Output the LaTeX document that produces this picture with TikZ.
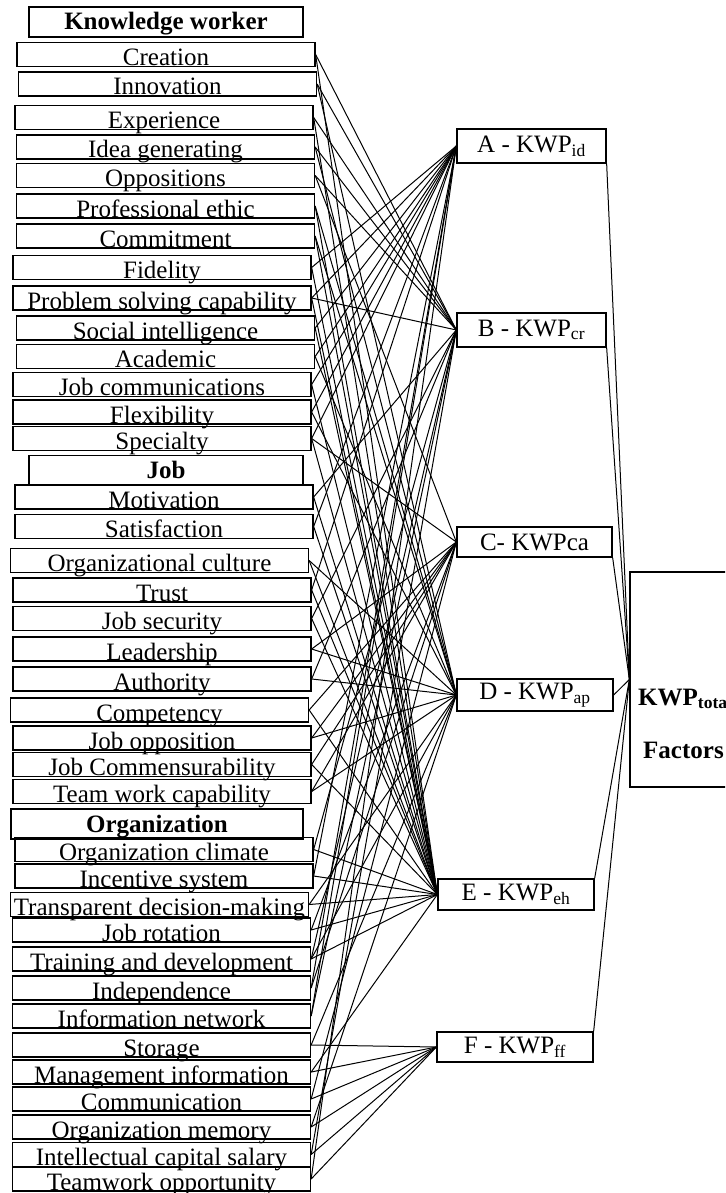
\documentclass[tikz,border=0pt]{standalone}
\usepackage{fontspec}
\setmainfont{Liberation Serif}
\usetikzlibrary{positioning}
\newcommand{\boxfont}{\fontsize{25}{27}\selectfont}
\tikzset{
  item/.style={draw=black,line width=1.3pt,minimum width=298pt,inner xsep=0pt,
               inner ysep=1pt,text height=22pt,text depth=0pt,font=\boxfont},
  head/.style={item,minimum width=274pt,text depth=6pt,font=\boxfont\bfseries},
  fac/.style={draw=black,line width=1.3pt,minimum width=156pt,minimum height=32pt,
              inner sep=0pt,font=\boxfont},
  link/.style={black,line width=1pt},
}

\begin{document}
\begin{tikzpicture}[x=1pt,y=-1pt]
  \useasboundingbox (0,0) rectangle (725,1193);
  \clip (0,0) rectangle (725,1193);
  % knowledge worker
  \node[head] (kw) at (166,22) {Knowledge worker};
  \node[item] (cre)  at (166,54.5)   {Creation};
  \node[item] (inn)  at (167.5,84)   {Innovation};
  \node[item] (exp)  at (164,117.5)  {Experience};
  \node[item] (idea) at (165.5,147)  {Idea generating};
  \node[item] (opp)  at (165.5,175.5){Oppositions};
  \node[item] (pro)  at (165.5,206)  {Professional ethic};
  \node[item] (com)  at (165.5,236)  {Commitment};
  \node[item] (fid)  at (162,267.5)  {Fidelity};
  \node[item] (prob) at (162,298)    {Problem solving capability};
  \node[item] (soc)  at (165.5,328)  {Social intelligence};
  \node[item] (aca)  at (165.5,356.5){Academic};
  \node[item] (jcom) at (162,384.5)  {Job communications};
  \node[item] (flex) at (162,412)    {Flexibility};
  \node[item] (spec) at (162,438.5)  {Specialty};
  % job
  \node[head] (job) at (166,470.5) {Job};
  \node[item] (mot)   at (164,497)    {Motivation};
  \node[item] (sat)   at (164,526.5)  {Satisfaction};
  \node[item] (oc)    at (159.5,560.5){Organizational culture};
  \node[item] (tru)   at (162,590)    {Trust};
  \node[item] (jsec)  at (162,618.5)  {Job security};
  \node[item] (lead)  at (162,649)    {Leadership};
  \node[item] (auth)  at (162,679)    {Authority};
  \node[item] (comp)  at (159.5,710)  {Competency};
  \node[item] (jopp)  at (162,738)    {Job opposition};
  \node[item] (jcomm) at (162,764.5)  {Job Commensurability};
  \node[item] (team)  at (162,791.5)  {Team work capability};
  % organization
  \node[head,minimum width=292pt] (org) at (157,824) {Organization};
  \node[item] (ocl)  at (164,849.5)   {Organization climate};
  \node[item] (inc)  at (164,876)     {Incentive system};
  \node[item] (tdm)  at (159.5,904.5) {Transparent decision-making};
  \node[item] (jrot) at (161.5,930)   {Job rotation};
  \node[item] (trd)  at (161.5,959)   {Training and development};
  \node[item] (ind)  at (161.5,988)   {Independence};
  \node[item] (inet) at (161.5,1016)  {Information network};
  \node[item] (sto)  at (161.5,1045)  {Storage};
  \node[item] (mi)   at (161.5,1072)  {Management information};
  \node[item] (cmn)  at (161.5,1099)  {Communication};
  \node[item] (omem) at (161.5,1127)  {Organization memory};
  \node[item] (ics)  at (161.5,1154.5){Intellectual capital salary};
  \node[item] (topp) at (161.5,1179)  {Teamwork opportunity};
  % factors
  \node[fac,minimum width=149pt,minimum height=34pt] (fa) at (531.5,146) {A - KWP\textsubscript{id}};
  \node[fac,minimum width=149pt,minimum height=34pt] (fb) at (531.5,330) {B - KWP\textsubscript{cr}};
  \node[fac,minimum width=155pt,minimum height=30pt] (fc) at (534.5,542) {C- KWPca};
  \node[fac] (fd) at (535,695)    {D - KWP\textsubscript{ap}};
  \node[fac,minimum height=31pt] (fe) at (516,894.5) {E - KWP\textsubscript{eh}};
  \node[fac,minimum height=30pt] (ff) at (515,1047)  {F - KWP\textsubscript{ff}};
  % total
  \node[draw=black,line width=1.3pt,minimum width=106pt,minimum height=215pt] (tot) at (683,679.5) {};
  \node[anchor=base west,inner sep=0pt,font=\boxfont\bfseries] (totlbl) at (638,705) {KWP\textsubscript{total}};
  \node[anchor=base west,inner sep=0pt,font=\boxfont\bfseries] (totfac) at (643,758) {Factors};

  \foreach \s/\t in {cre/fb,cre/fe,inn/fb,inn/fd,exp/fb,exp/fe,idea/fb,idea/fd,
      opp/fb,opp/fc,pro/fe,pro/fd,com/fe,com/fd,fid/fa,fid/fe,prob/fb,prob/fe,prob/fa,
      soc/fa,soc/fe,aca/fa,aca/fd,jcom/fa,jcom/fe,flex/fa,flex/fd,spec/fa,spec/fe,spec/fc,
      mot/fe,mot/fb,sat/fe,sat/fa,oc/fd,oc/fe,tru/fa,tru/fe,jsec/fb,jsec/fe,lead/fd,lead/fc,
      auth/fb,auth/fd,comp/fc,comp/fe,jopp/fc,jopp/fd,jcomm/fc,jcomm/fe,team/fc,team/fd,
      ocl/fe,ocl/fb,inc/fe,inc/fa,tdm/fe,tdm/fd,jrot/fe,jrot/fc,trd/fb,trd/fd,trd/fe,
      ind/fa,ind/fc,inet/fa,inet/fb,sto/ff,sto/fd,mi/ff,mi/fe,cmn/ff,cmn/fc,omem/ff,omem/fd,
      ics/ff,ics/fb,topp/ff,topp/fa}
    \draw[link] (\s.east) -- (\t.west);

  \foreach \f/\a in {fa/south east,fb/south east,fc/south east,fd/east,fe/north east,ff/north east}
    \draw[link] (\f.\a) -- (tot.west);
\end{tikzpicture}
\end{document}
